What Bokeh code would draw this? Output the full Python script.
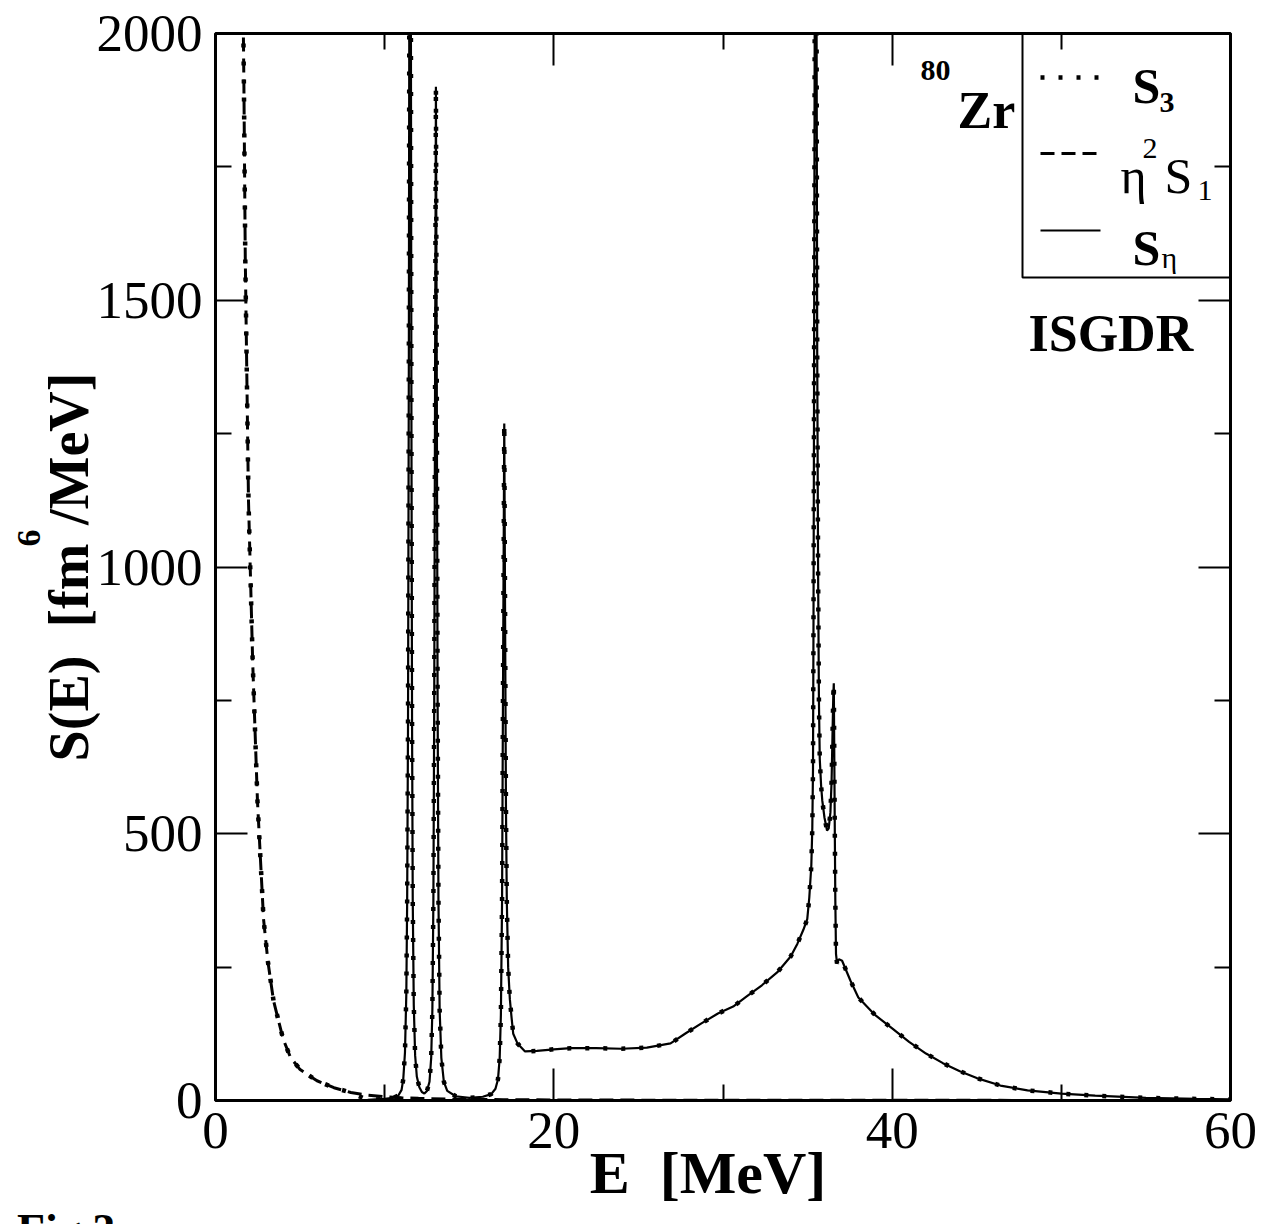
from bokeh.plotting import figure
from bokeh.models import Range1d, FixedTicker, LinearAxis, Label, BoxAnnotation, Div, Title
from bokeh.layouts import column
from bokeh.embed import file_html
from bokeh.resources import INLINE

# ---------------- data ----------------
# eta^2 S1 : low-energy (spurious) tail
E_low = [1.6, 1.68, 1.76, 1.95, 2.2, 2.48, 2.84, 3.1, 3.43, 4.0, 4.43, 5.0, 6.0, 7.0,
         8.0, 9.0, 10.0, 11.0, 12.0, 14.0, 17.0, 20.0, 25.0, 30.0, 40.0, 50.0, 60.0]
S_low = [2150, 1900, 1580, 1125, 820, 562, 340, 260, 187, 115, 81, 58, 37, 24,
         15, 10, 7, 5, 4, 2.5, 1.6, 1.0, 0.7, 0.5, 0.3, 0.2, 0.1]

# S_eta : corrected ISGDR strength
E_res = [9.0, 10.0, 10.5, 10.8, 11.0, 11.1, 11.2, 11.28, 11.33, 11.38, 11.43, 11.47, 11.5,
         11.54, 11.58, 11.62, 11.66, 11.72, 11.8, 11.9, 12.05, 12.2, 12.35,
         12.5, 12.65, 12.75, 12.82, 12.88, 12.93, 12.98, 13.03, 13.08, 13.13, 13.18,
         13.25, 13.35, 13.5, 13.7, 14.2, 15.0, 15.8,
         16.3, 16.55, 16.7, 16.8, 16.87, 16.94, 17.0, 17.07, 17.12, 17.17, 17.22, 17.3,
         17.4, 17.5, 17.6, 17.85, 18.3, 19.0, 20.0, 21.0, 22.5, 24.0, 25.5, 26.9,
         27.8, 28.7, 29.7, 30.6, 31.4, 32.3, 33.2, 33.6, 34.0, 34.4, 34.75, 34.98,
         35.1, 35.22, 35.28, 35.32, 35.35, 35.38, 35.42, 35.47, 35.52, 35.57, 35.62,
         35.67, 35.72, 35.8, 35.87, 36.0, 36.15, 36.25, 36.35, 36.42, 36.47, 36.52,
         36.55, 36.58, 36.61, 36.64, 36.68, 36.74, 36.85, 37.04, 37.53, 38.0, 39.0,
         40.0, 41.0, 42.0, 43.0, 44.0, 45.0, 46.4, 48.0, 50.0, 52.0, 55.0, 58.0, 60.0]
S_res = [1, 3, 5, 9, 20, 40, 90, 200, 375, 700, 1400, 2400, 2800,
         2300, 1300, 700, 375, 180, 85, 45, 25, 16, 13,
         18, 35, 80, 170, 375, 750, 1350, 1900, 1350, 750, 375,
         170, 80, 35, 18, 8, 5, 7,
         12, 22, 40, 80, 160, 375, 800, 1269, 900, 550, 375, 250,
         190, 156, 125, 107, 92, 93, 96, 98, 98, 97, 99, 107,
         126, 144, 163, 176, 195, 216, 240, 255, 270, 294, 320, 340,
         380, 440, 512, 620, 900, 1300, 2000, 2600, 2200, 1400, 1000,
         750, 640, 590, 562, 530, 506, 510, 540, 600, 680, 760,
         782, 640, 500, 375, 275, 257, 265, 262, 225, 193, 160,
         135, 110, 88, 70, 55, 42, 28, 19, 13, 9, 5, 3, 2]

# S3 : full strength = low-energy tail below 9 MeV + resonance region
E_s3 = [e for e in E_low if e < 9.0] + E_res
S_s3 = [s for e, s in zip(E_low, S_low) if e < 9.0] + S_res

x_ticks = [0, 20, 40, 60]
x_minor = [10, 30, 50]
y_ticks = [0, 500, 1000, 1500, 2000]
y_minor = [250, 750, 1250, 1750]

# ---------------- layout helpers (page pixels -> data) ----------------
FX0, FX1, FY0, FY1 = 215, 1230, 1100, 33
def ex(px):
    return (px - FX0) / (FX1 - FX0) * 60.0
def sy(py):
    return (FY0 - py) / (FY0 - FY1) * 2000.0

FONT = "Liberation Serif"
PW, PH = 1265, 1221
OVERLAP = 13

p = figure(width=PW, height=PH, x_range=Range1d(0, 60), y_range=Range1d(0, 2000),
           output_backend="svg", toolbar_location=None,
           min_border_left=FX0, min_border_right=PW - FX1,
           min_border_top=FY1, min_border_bottom=PH - FY0)
p.grid.visible = False
p.background_fill_color = "white"
p.border_fill_color = "white"
p.outline_line_color = "black"
p.outline_line_width = 3
p.outline_line_alpha = 1.0

def style_axis(ax, ticks, minor, show_labels, standoff):
    ax.ticker = FixedTicker(ticks=ticks, minor_ticks=minor)
    ax.axis_line_color = None
    ax.major_tick_in = 32
    ax.major_tick_out = 0
    ax.minor_tick_in = 16
    ax.minor_tick_out = 0
    ax.major_tick_line_width = 2
    ax.minor_tick_line_width = 2
    ax.major_tick_line_color = "black"
    ax.minor_tick_line_color = "black"
    if show_labels:
        ax.major_label_text_font = FONT
        ax.major_label_text_font_size = "53px"
        ax.major_label_text_color = "black"
        ax.major_label_standoff = standoff
    else:
        ax.major_label_overrides = {t: "" for t in ticks}
        ax.major_label_standoff = 0

xa = p.xaxis[0]
ya = p.yaxis[0]
style_axis(xa, x_ticks, x_minor, True, 12)
style_axis(ya, y_ticks, y_minor, True, 13)
top_ax = LinearAxis()
right_ax = LinearAxis()
style_axis(top_ax, x_ticks, x_minor, False, 0)
style_axis(right_ax, y_ticks, y_minor, False, 0)
p.add_layout(top_ax, "above")
p.add_layout(right_ax, "right")

# axis titles (trailing no-break spaces move the centred title a little left)
xa.axis_label = "E\u00a0 [MeV]\u00a0\u00a0"
xa.axis_label_text_font = FONT
xa.axis_label_text_font_size = "60px"
xa.axis_label_text_font_style = "bold"
xa.axis_label_text_color = "black"
xa.axis_label_standoff = -11

# y title: the gap after "fm" is filled by a raised "6" drawn as a side title
ya.axis_label = "S(E)\u00a0 [fm\u00a0\u200a/MeV]"
ya.axis_label_text_font = FONT
ya.axis_label_text_font_size = "56px"
ya.axis_label_text_font_style = "bold"
ya.axis_label_text_color = "black"
ya.axis_label_standoff = -6

sup6 = Title(text="6", align="left", offset=FY0 - 546, standoff=-10,
             text_font=FONT, text_font_size="34px", text_font_style="bold",
             text_color="black")
p.add_layout(sup6, "left")

# ---------------- curves ----------------
p.line(E_res, S_res, line_color="black", line_width=2.2)
p.line(E_low, S_low, line_color="black", line_width=3, line_dash="14 7")
p.line(E_s3, S_s3, line_color="black", line_width=4.5, line_dash="4 14")

# ---------------- legend ----------------
p.add_layout(BoxAnnotation(left=ex(1022), right=60, bottom=sy(277), top=2000,
                           fill_color=None, line_color="black", line_alpha=1.0,
                           line_width=2))
p.line([ex(1040), ex(1100)], [sy(77), sy(77)], line_color="black", line_width=4.5, line_dash="4 14")
p.line([ex(1040), ex(1102)], [sy(153), sy(153)], line_color="black", line_width=3, line_dash="14 7")
p.line([ex(1040), ex(1100)], [sy(230), sy(230)], line_color="black", line_width=2.2)

def lab(px, py, text, size, bold=False, align="left"):
    p.add_layout(Label(x=ex(px), y=sy(py), text=text, text_font=FONT,
                       text_font_size=f"{size}px",
                       text_font_style="bold" if bold else "normal",
                       text_align=align, text_baseline="alphabetic",
                       text_color="black"))

lab(1132, 85, "S", 50, True)
lab(1159, 102, "3", 30, True)
lab(1120, 175, "\u03b7", 50)
lab(1142, 148, "2", 30)
lab(1164, 175, "S", 50)
lab(1197, 190, "1", 30)
lab(1132, 247, "S", 50, True)
lab(1161, 257, "\u03b7", 30)

lab(920, 70, "80", 30, True)
lab(957, 110, "Zr", 52, True)
lab(1028, 333, "ISGDR", 52, True)

fig_div = Div(text='<div style="margin-top:-5px">Fig.3</div>', width=300,
              height=1224 - PH + OVERLAP, margin=(-OVERLAP, 0, 0, 0),
              styles={"font-family": FONT, "font-size": "46px", "font-weight": "bold",
                      "line-height": "46px", "padding-left": "17px", "overflow": "hidden",
                      "color": "black"})

open("out.html", "w").write(file_html(column(p, fig_div), INLINE))
